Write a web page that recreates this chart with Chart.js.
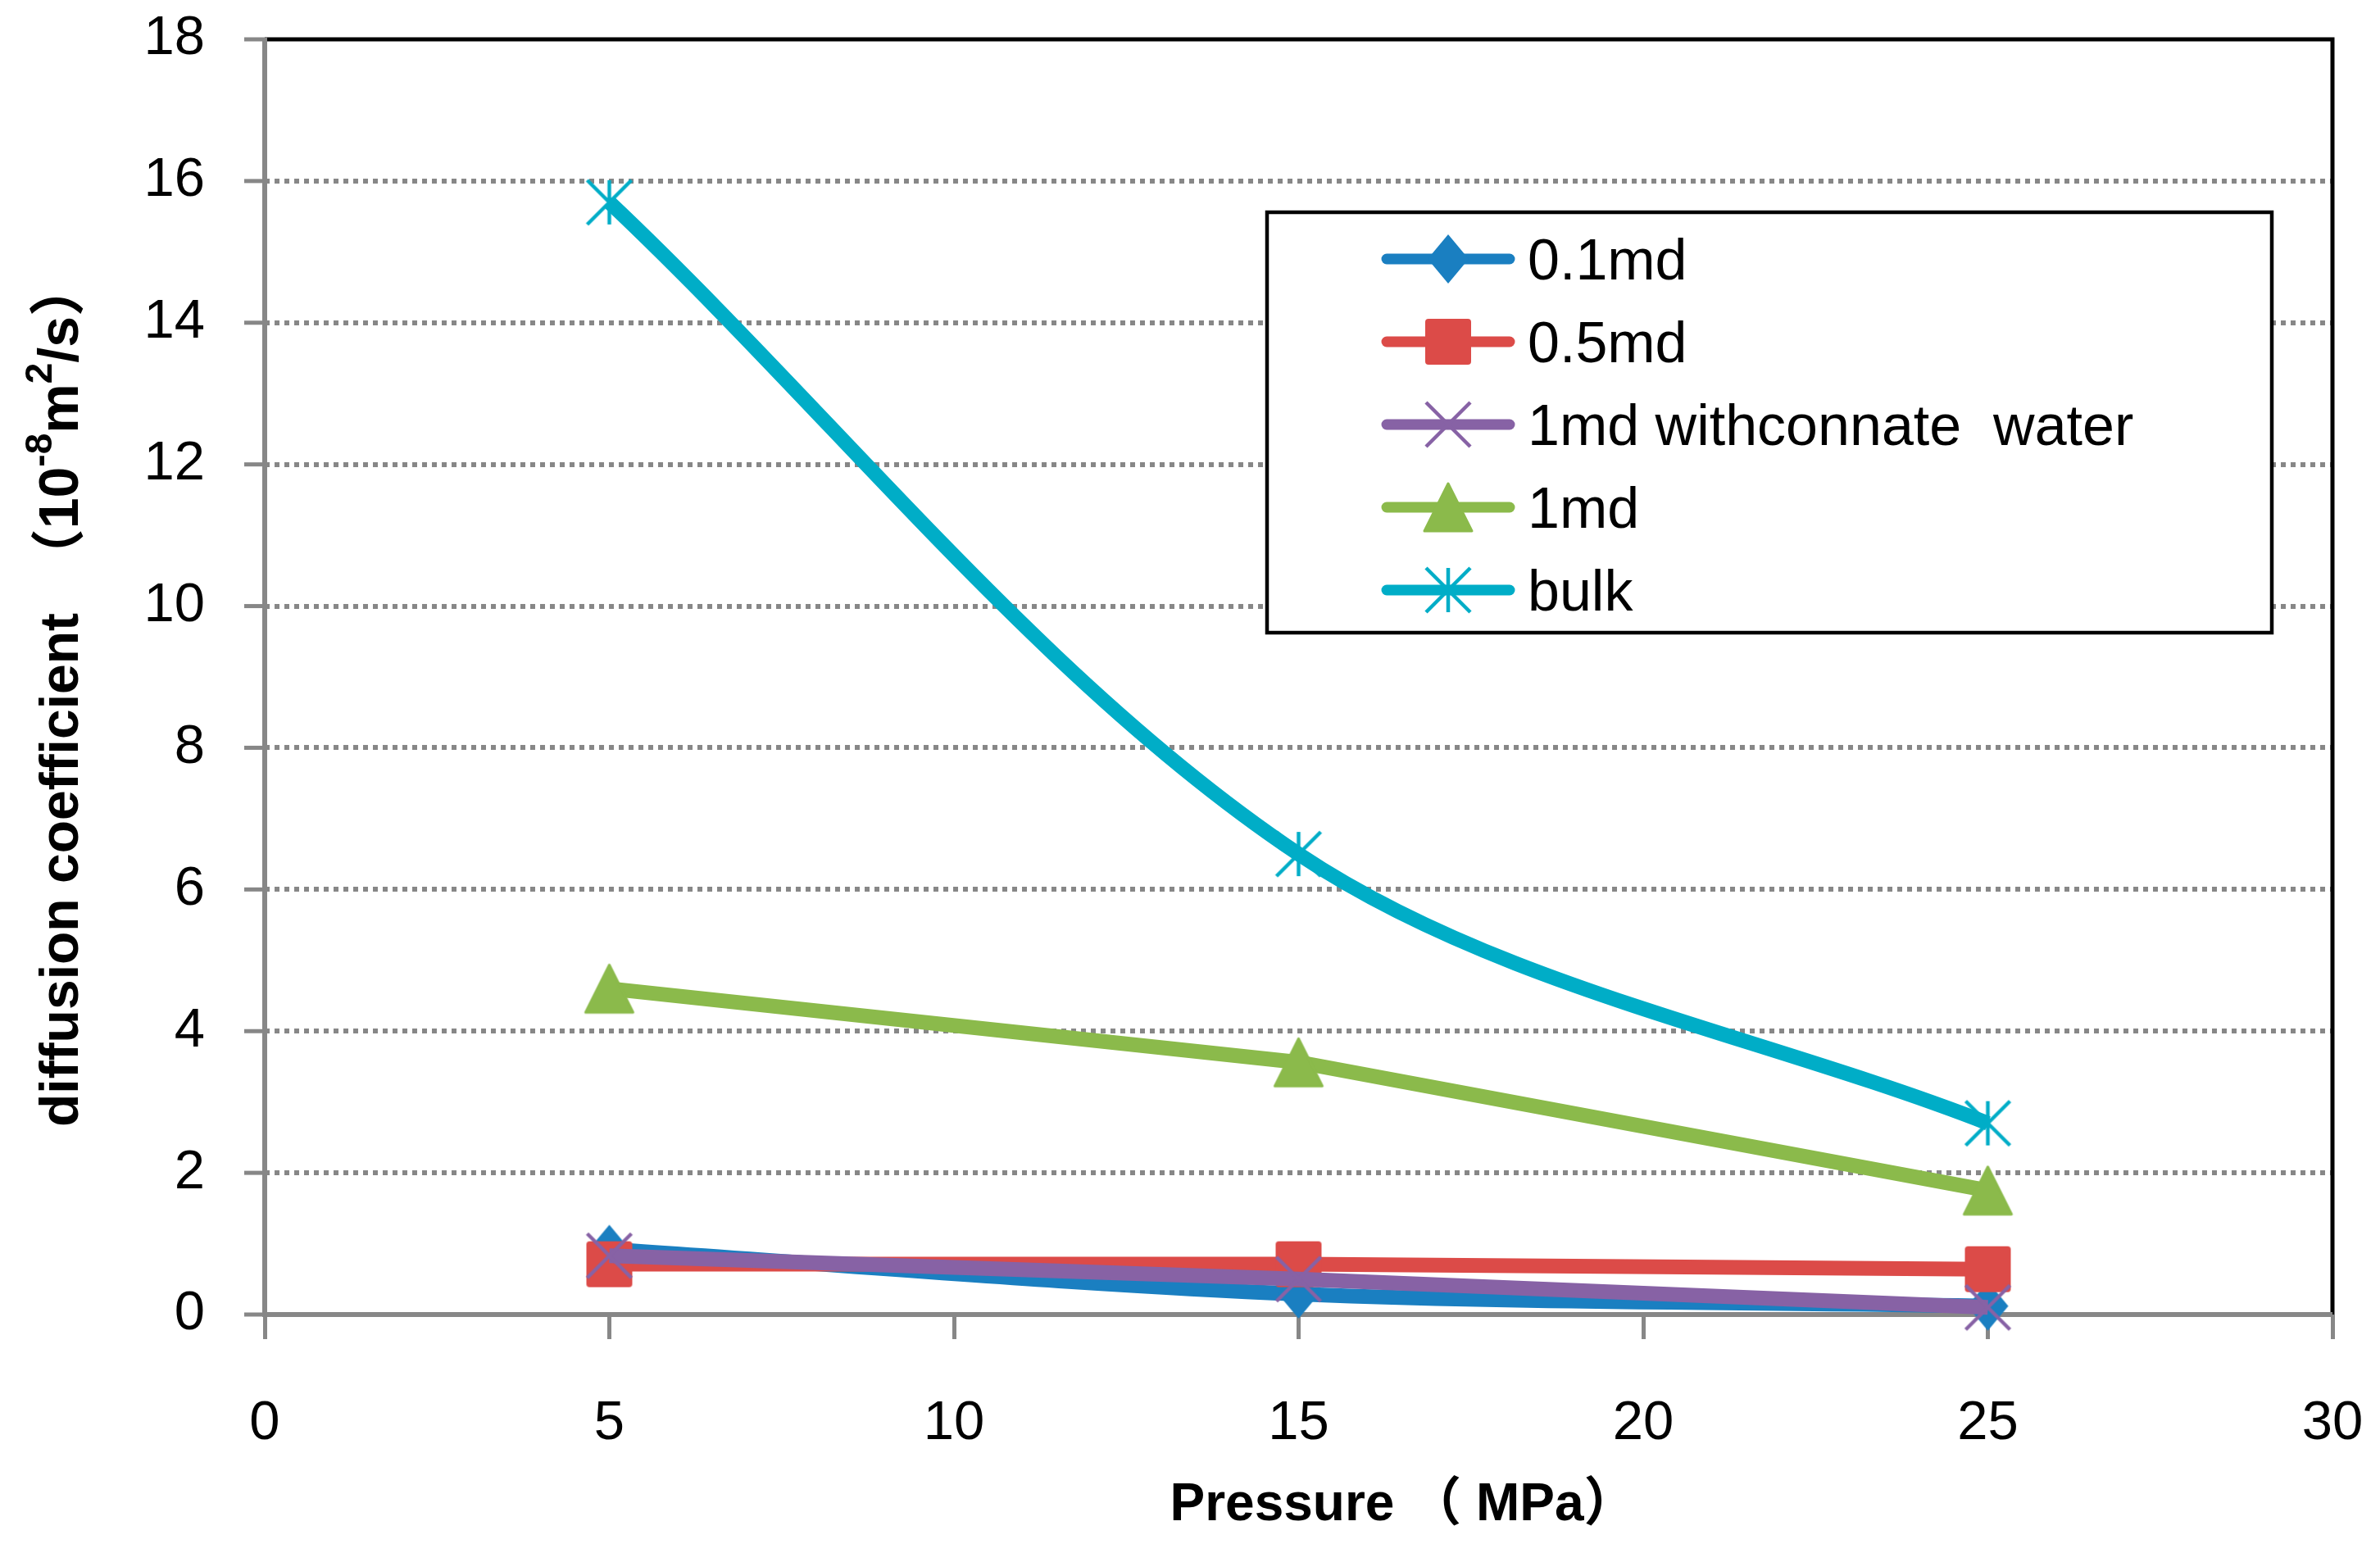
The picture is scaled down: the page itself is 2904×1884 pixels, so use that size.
<!DOCTYPE html>
<html>
<head>
<meta charset="utf-8">
<script src="https://cdn.jsdelivr.net/npm/chart.js@4/dist/chart.umd.min.js"></script>
<style>
  html, body { margin: 0; padding: 0; background: #fff; }
  canvas { display: block; }
</style>
</head>
<body>
<canvas id="chart" width="2904" height="1884" style="width:2904px;height:1884px"></canvas>
<script>
// data
const pressure = [5, 15, 25];
const perm01 = [0.92, 0.29, 0.12];
const perm05 = [0.71, 0.71, 0.64];
const perm1Water = [0.83, 0.50, 0.10];
const perm1 = [4.60, 3.56, 1.75];
const bulk = [15.7, 6.5, 2.7];

const seriesNames = ['0.1md', '0.5md', '1md withconnate  water', '1md', 'bulk'];
const seriesColors = ['#1a7fc1', '#dc4b48', '#8762a5', '#8bba4b', '#00adc7'];
const seriesSmooth = [true, false, false, false, true];
const seriesMarkers = ['diamond', 'square', 'x', 'triangle', 'star'];
const seriesValues = [perm01, perm05, perm1Water, perm1, bulk];

const xTicks = [0, 5, 10, 15, 20, 25, 30];
const yTicks = [0, 2, 4, 6, 8, 10, 12, 14, 16, 18];

const GRAY = '#878787';
const SANS = '"Liberation Sans", Arial, "Noto Sans CJK SC", sans-serif';

function makeMarker(kind, color) {
  const c = document.createElement('canvas');
  c.width = 70; c.height = 70;
  const g = c.getContext('2d');
  const m = 35;
  g.fillStyle = color;
  g.strokeStyle = color;
  g.lineJoin = 'round';
  if (kind === 'diamond') {
    g.beginPath();
    g.moveTo(m, m - 30); g.lineTo(m + 25, m); g.lineTo(m, m + 30); g.lineTo(m - 25, m);
    g.closePath(); g.fill();
  } else if (kind === 'square') {
    g.beginPath();
    g.roundRect(m - 28, m - 28, 56, 56, 4);
    g.fill();
  } else if (kind === 'triangle') {
    g.lineWidth = 3;
    g.beginPath();
    g.moveTo(m, m - 29); g.lineTo(m + 29, m + 29); g.lineTo(m - 29, m + 29);
    g.closePath(); g.fill(); g.stroke();
  } else {
    g.lineWidth = 4.5;
    g.beginPath();
    g.moveTo(m - 27, m - 27); g.lineTo(m + 27, m + 27);
    g.moveTo(m + 27, m - 27); g.lineTo(m - 27, m + 27);
    if (kind === 'star') { g.moveTo(m, m - 27); g.lineTo(m, m + 27); }
    g.stroke();
  }
  return c;
}

const markerImages = seriesMarkers.map((k, i) => makeMarker(k, seriesColors[i]));

function drawRich(ctx, parts, x, y) {
  let cx = x;
  parts.forEach((p) => {
    ctx.font = `bold ${p.size}px ${SANS}`;
    ctx.fillText(p.text, cx, y - (p.rise || 0));
    cx += ctx.measureText(p.text).width;
  });
}

function richWidth(ctx, parts) {
  return parts.reduce((w, p) => { ctx.font = `bold ${p.size}px ${SANS}`; return w + ctx.measureText(p.text).width; }, 0);
}

const framePlugin = {
  id: 'frame',
  beforeDatasetsDraw(chart) {
    const { ctx, chartArea: a, scales: { y } } = chart;
    ctx.save();
    // y tick marks
    ctx.strokeStyle = GRAY; ctx.lineWidth = 5;
    yTicks.forEach((v) => {
      const py = y.getPixelForValue(v);
      ctx.beginPath(); ctx.moveTo(a.left - 25, py); ctx.lineTo(a.left, py); ctx.stroke();
    });
    // top and right border
    ctx.strokeStyle = '#000'; ctx.lineWidth = 5;
    ctx.beginPath(); ctx.moveTo(a.left, a.top); ctx.lineTo(a.right, a.top); ctx.lineTo(a.right, a.bottom); ctx.stroke();
    // axis lines
    ctx.strokeStyle = GRAY; ctx.lineWidth = 6;
    ctx.beginPath(); ctx.moveTo(a.left, a.top - 2); ctx.lineTo(a.left, a.bottom); ctx.lineTo(a.right, a.bottom); ctx.stroke();
    ctx.restore();
  },
  afterDraw(chart) {
    const { ctx } = chart;
    ctx.save();
    // legend
    ctx.fillStyle = '#fff';
    ctx.fillRect(1546, 259, 1226, 513);
    ctx.strokeStyle = '#000'; ctx.lineWidth = 4.5;
    ctx.strokeRect(1546, 259, 1226, 513);
    seriesNames.forEach((name, i) => {
      const ry = 316 + i * 101;
      ctx.strokeStyle = seriesColors[i]; ctx.lineWidth = 13; ctx.lineCap = 'round';
      ctx.beginPath(); ctx.moveTo(1692, ry); ctx.lineTo(1842, ry); ctx.stroke();
      const img = markerImages[i];
      ctx.drawImage(img, 1767 - img.width / 2, ry - img.height / 2);
      ctx.fillStyle = '#000';
      ctx.font = `70px ${SANS}`;
      ctx.textBaseline = 'alphabetic'; ctx.textAlign = 'left';
      ctx.fillText(name, 1864, ry + 25);
    });
    // axis titles
    ctx.fillStyle = '#000';
    ctx.textAlign = 'left'; ctx.textBaseline = 'alphabetic';
    const xTitle = [{ text: 'Pressure （ MPa）', size: 64 }];
    drawRich(ctx, xTitle, 1712 - richWidth(ctx, xTitle) / 2, 1855);
    const yTitle = [
      { text: 'diffusion coefficient  （', size: 66 },
      { text: '10', size: 68 },
      { text: '-8', size: 46, rise: 32 },
      { text: 'm', size: 68 },
      { text: '2', size: 46, rise: 32 },
      { text: '/s）', size: 68 }
    ];
    ctx.translate(95, 1375);
    ctx.rotate(-Math.PI / 2);
    drawRich(ctx, yTitle, 0, 0);
    ctx.restore();
  }
};

const datasets = seriesNames.map((name, i) => ({
  label: name,
  data: pressure.map((p, j) => ({ x: p, y: seriesValues[i][j] })),
  borderColor: seriesColors[i],
  backgroundColor: seriesColors[i],
  borderWidth: 18,
  tension: seriesSmooth[i] ? 0.33 : 0,
  pointStyle: markerImages[i],
  pointRadius: 30,
  clip: false,
  order: 5 - i
}));

function noOverhang(s) {
  s.paddingTop = 0; s.paddingBottom = 0; s.paddingLeft = 0; s.paddingRight = 0;
}

new Chart(document.getElementById('chart'), {
  type: 'line',
  data: { datasets },
  options: {
    responsive: false,
    animation: false,
    devicePixelRatio: 1,
    layout: { padding: { left: 0, right: 58, top: 46, bottom: 0 } },
    plugins: { legend: { display: false }, tooltip: { enabled: false } },
    scales: {
      x: {
        type: 'linear', min: 0, max: 30,
        afterBuildTicks: (s) => { s.ticks = xTicks.map((v) => ({ value: v })); },
        afterFit: (s) => { s.height = 280; noOverhang(s); },
        ticks: { padding: 63, color: '#000', font: { family: SANS, size: 67 }, maxRotation: 0 },
        grid: { drawOnChartArea: false, drawTicks: true, tickLength: 30, tickWidth: 5, tickColor: GRAY, color: GRAY, lineWidth: 5 },
        border: { display: false }
      },
      y: {
        type: 'linear', min: 0, max: 18,
        afterBuildTicks: (s) => { s.ticks = yTicks.map((v) => ({ value: v })); },
        afterFit: (s) => { s.width = 323; noOverhang(s); },
        ticks: { padding: 73, color: '#000', font: { family: SANS, size: 67 } },
        grid: {
          drawTicks: false, lineWidth: 6,
          color: (c) => (c.tick && (c.tick.value === 0 || c.tick.value === 18)) ? 'rgba(0,0,0,0)' : GRAY
        },
        border: { display: false, dash: [6, 6] }
      }
    }
  },
  plugins: [framePlugin]
});
</script>
</body>
</html>
